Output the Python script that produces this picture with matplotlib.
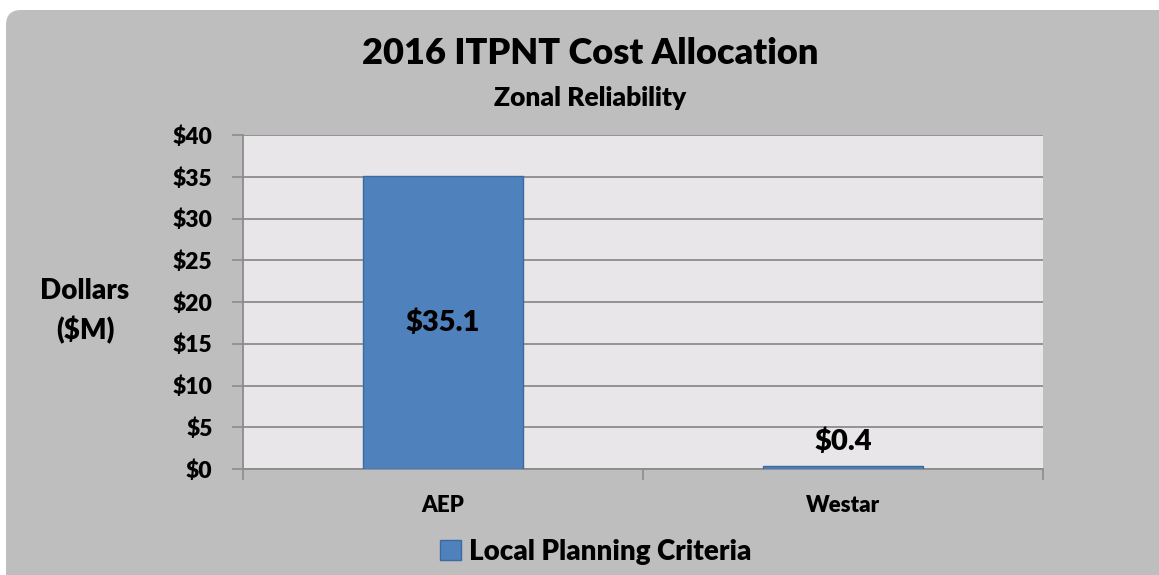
import matplotlib.pyplot as plt
from matplotlib.patches import FancyBboxPatch

categories = ['AEP', 'Westar']
values = [35.1, 0.4]
value_labels = ['$35.1', '$0.4']
yticks = [0, 5, 10, 15, 20, 25, 30, 35, 40]
series_name = 'Local Planning Criteria'

plt.rcParams['font.family'] = ['Lato', 'DejaVu Sans']
plt.rcParams['font.weight'] = 'heavy'
WT = 'heavy'

W, H = 1159, 575
fig = plt.figure(figsize=(W / 100, H / 100), dpi=100)
fig.patch.set_facecolor('white')

# rounded grey chart background
bg = FancyBboxPatch((6 / W, -0.2), 1.2, 1.2 - 10 / H,
                    boxstyle='round,pad=0,rounding_size=0.013',
                    transform=fig.transFigure, facecolor='#BEBEBE',
                    edgecolor='none', zorder=-10, mutation_aspect=W / H)
fig.patches.append(bg)

ax = fig.add_axes([243 / W, 1 - 469 / H, 800 / W, 334 / H])
ax.set_zorder(1)
ax.set_facecolor('#E8E6E8')

x = range(len(categories))
ax.bar(x, values, width=0.4, color='#4F81BD', edgecolor='#3A6A9F',
       linewidth=1, zorder=3)

ax.set_xlim(-0.5, 1.5)
ax.set_ylim(0, 40)
ax.set_yticks(yticks)
ax.set_yticklabels(['$' + str(t) for t in yticks], fontsize=16.5, fontweight=WT)
ax.set_xticks(x)
ax.set_xticklabels(categories, fontsize=16, fontweight=WT)
ax.set_xticks([-0.5, 0.5, 1.5], minor=True)
ax.tick_params(axis='x', which='major', length=0, pad=19)
ax.tick_params(axis='x', which='minor', length=8, color='#8C8C8C', width=1.2)
ax.tick_params(axis='y', length=8, color='#8C8C8C', width=1.2, pad=14)
ax.grid(axis='y', color='#8C8C8C', linewidth=1.3, zorder=1)

for s in ['top', 'right']:
    ax.spines[s].set_visible(False)
for s in ['left', 'bottom']:
    ax.spines[s].set_color('#8C8C8C')
    ax.spines[s].set_linewidth(1.3)

# value labels
ax.text(0, 17.5, value_labels[0], ha='center', va='center', fontsize=21,
        fontweight=WT, zorder=4)
ax.text(1, values[1] + 1.3, value_labels[1], ha='center', va='bottom',
        fontsize=21, fontweight=WT, zorder=4)

fig.text(590 / W, 1 - 53 / H, '2016 ITPNT Cost Allocation', ha='center',
         va='center', fontsize=26, fontweight=WT)
fig.text(590 / W, 1 - 98 / H, 'Zonal Reliability', ha='center', va='center',
         fontsize=19, fontweight=WT)
fig.text(85 / W, 1 - 311 / H, 'Dollars\n($M)', ha='center', va='center',
         fontsize=20, fontweight=WT, linespacing=1.5)

leg = fig.legend([plt.Rectangle((0, 0), 1, 1, facecolor='#4F81BD',
                                edgecolor='#3A6A9F')], [series_name],
                 loc='center', bbox_to_anchor=(596 / W, 1 - 552 / H),
                 frameon=False, prop={'size': 20, 'weight': WT},
                 handlelength=0.75, handleheight=0.75, handletextpad=0.3)

fig.savefig('out.png', dpi=100)
